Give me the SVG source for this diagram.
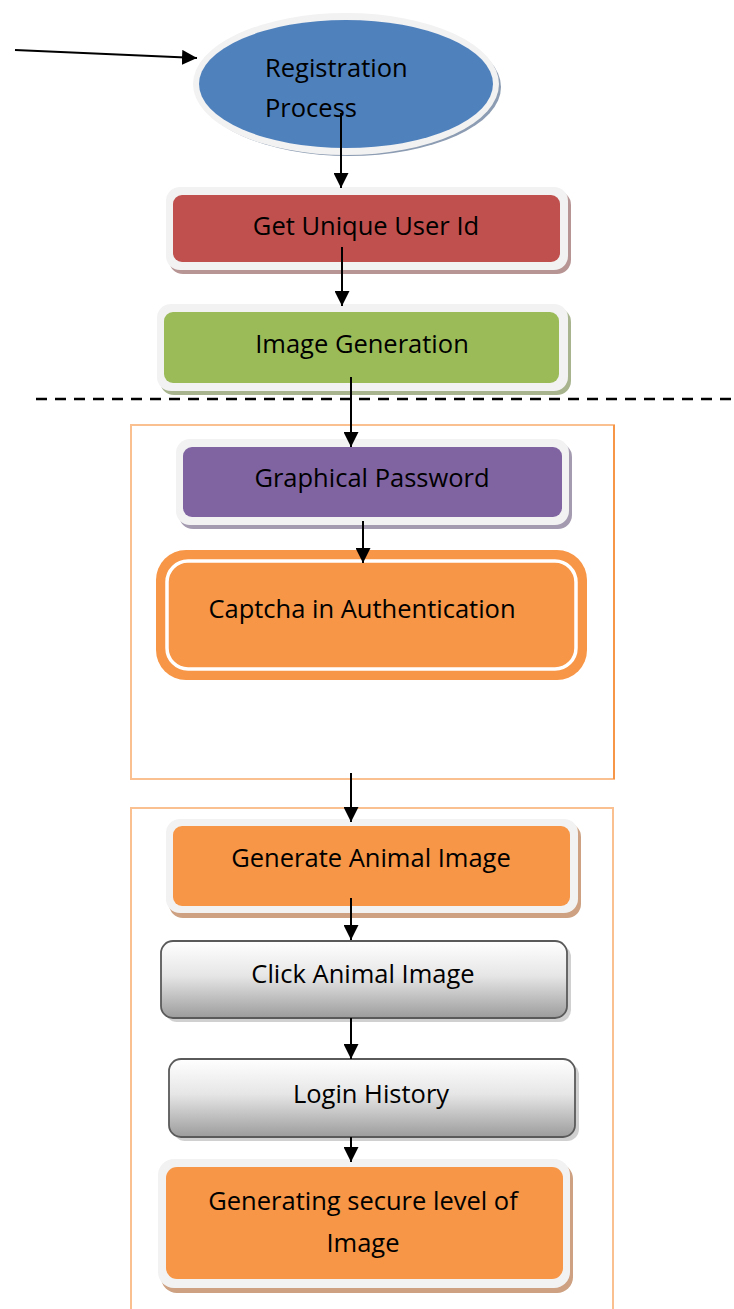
<svg xmlns="http://www.w3.org/2000/svg" width="734" height="1309" viewBox="0 0 734 1309">
<style>
text{font-family:"Open Sans",Lato,"Liberation Sans",sans-serif;font-size:25.5px;fill:#000;}
.c{text-anchor:middle;}
.rim{fill:#f2f2f2;}
.frame{fill:none;stroke:#fac090;stroke-width:2;}
.con{stroke:#000;stroke-width:2;fill:none;marker-end:url(#ah);}
</style>
<defs>
<marker id="ah" viewBox="0 0 10 10" refX="10" refY="5" markerWidth="7.5" markerHeight="7.5" markerUnits="strokeWidth" orient="auto">
<path d="M0,0 L10,5 L0,10 z" fill="#000"/>
</marker>
<linearGradient id="gray" x1="0" y1="0" x2="0" y2="1">
<stop offset="0" stop-color="#ffffff"/>
<stop offset="0.45" stop-color="#e6e6e6"/>
<stop offset="1" stop-color="#9c9c9c"/>
</linearGradient>
</defs>
<rect width="734" height="1309" fill="#fff"/>

<g id="frames">
<rect class="frame" x="131" y="425" width="483" height="354"/>
<line x1="614" y1="425" x2="614" y2="779" stroke="#f79646" stroke-width="2"/>
<path class="frame" d="M131,1310 V808 H613 V1310"/>
</g>

<line id="separator" x1="36" y1="399" x2="734" y2="399" stroke="#000" stroke-width="2.5" stroke-dasharray="11,8"/>

<g id="registration">
<ellipse cx="349" cy="87" rx="152" ry="69" fill="#8c9cb2"/>
<ellipse cx="346" cy="84" rx="153" ry="71" class="rim"/>
<ellipse cx="346" cy="84" rx="147" ry="64" fill="#4f81bd"/>
<text x="265" y="77">Registration</text>
<text x="265" y="117">Process</text>
</g>

<g id="get-unique-user-id">
<rect x="169" y="191" width="402" height="83" rx="14" fill="#b89595"/>
<rect x="166" y="187" width="402" height="83" rx="14" class="rim"/>
<rect x="173" y="195" width="387" height="67" rx="9" fill="#c0504d"/>
<text class="c" x="366" y="235">Get Unique User Id</text>
</g>

<g id="image-generation">
<rect x="160" y="308" width="411" height="87" rx="14" fill="#a8b48e"/>
<rect x="157" y="304" width="411" height="87" rx="14" class="rim"/>
<rect x="164" y="312" width="395" height="71" rx="9" fill="#9bbb59"/>
<text class="c" x="362" y="353">Image Generation</text>
</g>

<g id="graphical-password">
<rect x="179" y="443" width="393" height="86" rx="14" fill="#a49bb0"/>
<rect x="176" y="439" width="393" height="86" rx="14" class="rim"/>
<rect x="183" y="447" width="379" height="70" rx="9" fill="#8064a2"/>
<text class="c" x="372" y="487">Graphical Password</text>
</g>

<g id="captcha">
<rect x="156" y="550" width="431" height="130" rx="30" fill="#f79646"/>
<rect x="167" y="561" width="409" height="108" rx="21" fill="#f79646" stroke="#fff" stroke-width="3.5"/>
<text class="c" x="362" y="618">Captcha in Authentication</text>
</g>

<g id="generate-animal-image">
<rect x="169" y="823" width="412" height="95" rx="14" fill="#cda182"/>
<rect x="166" y="819" width="412" height="94" rx="14" class="rim"/>
<rect x="173" y="826" width="397" height="80" rx="9" fill="#f79646"/>
<text class="c" x="371" y="867">Generate Animal Image</text>
</g>

<g id="click-animal-image">
<rect x="165" y="945" width="406" height="77" rx="12" fill="#d0d0d0"/>
<rect x="161" y="941" width="406" height="77" rx="12" fill="url(#gray)" stroke="#5a5a5a" stroke-width="1.8"/>
<text class="c" x="363" y="983">Click Animal Image</text>
</g>

<g id="login-history">
<rect x="173" y="1063" width="406" height="78" rx="12" fill="#d0d0d0"/>
<rect x="169" y="1059" width="406" height="78" rx="12" fill="url(#gray)" stroke="#5a5a5a" stroke-width="1.8"/>
<text class="c" x="371" y="1103">Login History</text>
</g>

<g id="generating-secure-level">
<rect x="161" y="1163" width="412" height="130" rx="16" fill="#cda182"/>
<rect x="158" y="1159" width="412" height="129" rx="16" class="rim"/>
<rect x="166" y="1167" width="397" height="112" rx="11" fill="#f79646"/>
<text class="c" x="363" y="1210">Generating secure level of</text>
<text class="c" x="363" y="1252">Image</text>
</g>

<g id="connectors">
<line class="con" x1="15" y1="50" x2="197" y2="58"/>
<line class="con" x1="341" y1="113" x2="341" y2="188"/>
<line class="con" x1="342" y1="247" x2="342" y2="306"/>
<line class="con" x1="351" y1="377" x2="351" y2="447"/>
<line class="con" x1="363" y1="521" x2="363" y2="563"/>
<line class="con" x1="351" y1="773" x2="351" y2="822"/>
<line class="con" x1="351" y1="898" x2="351" y2="940"/>
<line class="con" x1="351" y1="1018" x2="351" y2="1059"/>
<line class="con" x1="351" y1="1137" x2="351" y2="1162"/>
</g>
</svg>
